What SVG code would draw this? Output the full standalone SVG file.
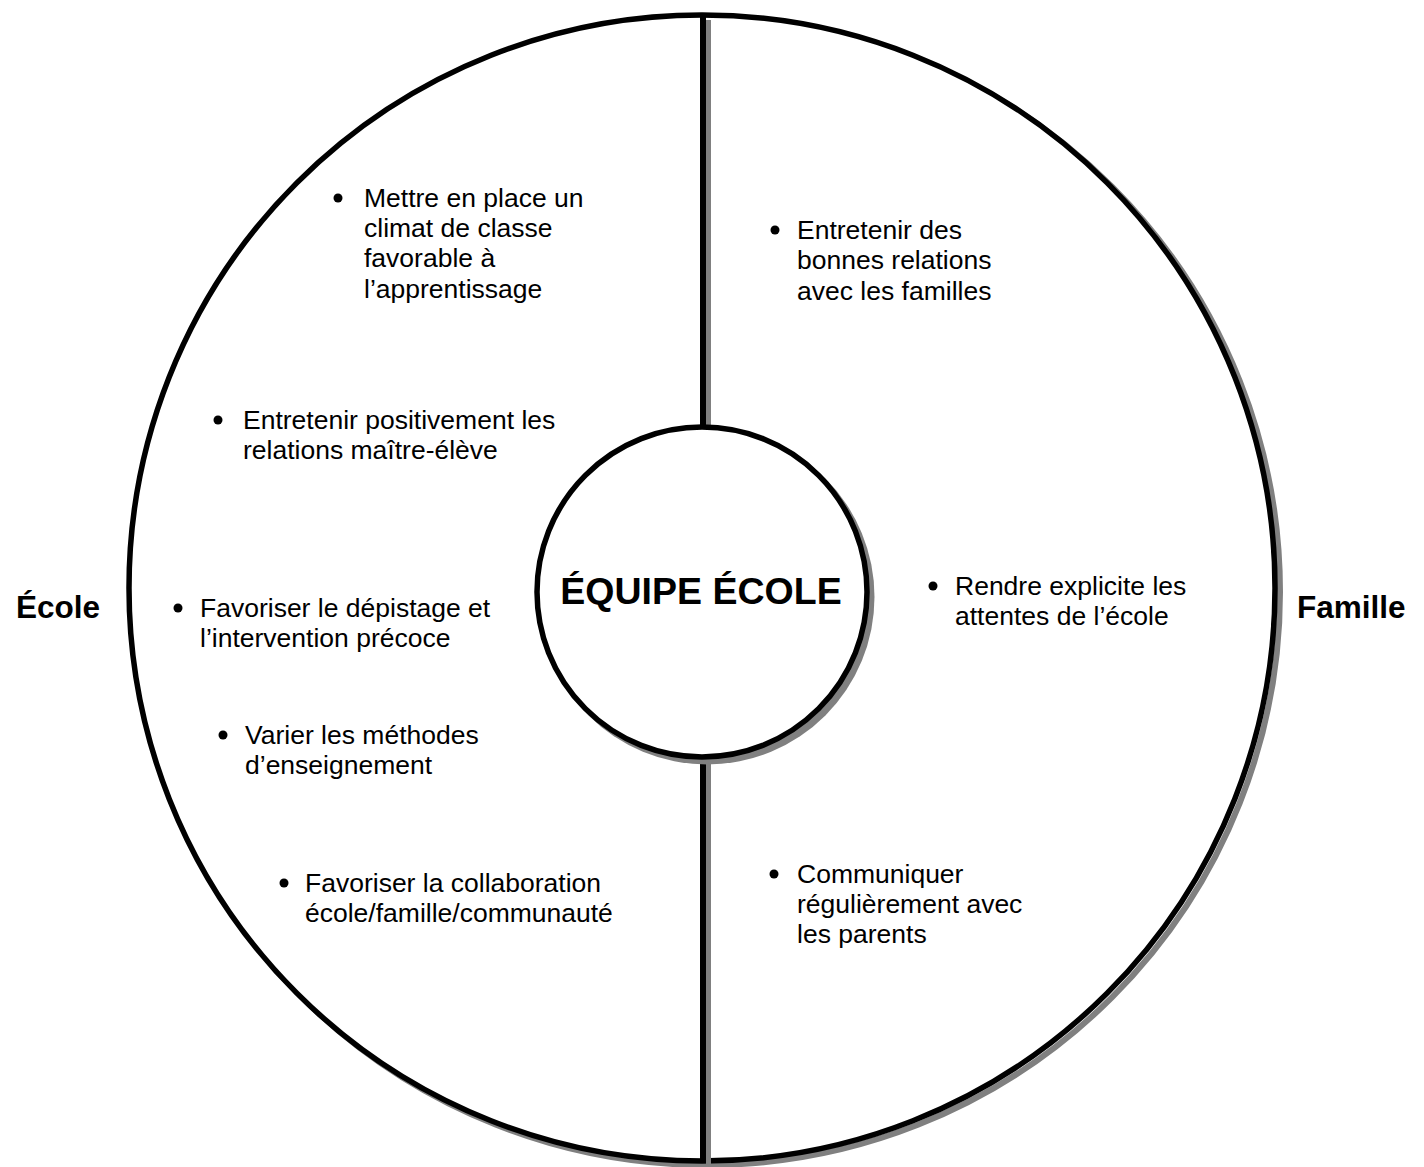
<svg xmlns="http://www.w3.org/2000/svg" width="1424" height="1167" viewBox="0 0 1424 1167">
<style>
.t{font-family:"Liberation Sans",Arial,sans-serif;font-size:26.5px;fill:#000}
.b{font-family:"Liberation Sans",Arial,sans-serif;font-weight:bold;fill:#000}
.sh{stroke:#808080;fill:none}
.bk{stroke:#000;fill:none}
</style>
<rect width="1424" height="1167" fill="#fff"/>
<g id="outer">
<circle class="sh" cx="707" cy="592" r="573" stroke-width="6"/>
<circle cx="702" cy="588" r="573" fill="#fff" stroke="#000" stroke-width="5.5"/>
</g>
<g id="connectors">
<line class="sh" x1="708.5" y1="20" x2="708.5" y2="430" stroke-width="5"/>
<line class="sh" x1="708.5" y1="760" x2="708.5" y2="1164" stroke-width="5"/>
<line class="bk" x1="703" y1="15" x2="703" y2="430" stroke-width="6"/>
<line class="bk" x1="703" y1="755" x2="703" y2="1161" stroke-width="6"/>
</g>
<g id="center">
<circle cx="707" cy="597" r="167.5" fill="#808080"/>
<circle cx="702" cy="592" r="165" fill="#fff" stroke="#000" stroke-width="5.5"/>
<text class="b" x="701" y="604" font-size="37.5" text-anchor="middle">ÉQUIPE ÉCOLE</text>
</g>
<g id="label-ecole"><text class="b" x="16" y="618" font-size="31.5">École</text></g>
<g id="label-famille"><text class="b" x="1297" y="618" font-size="31.5">Famille</text></g>
<g id="item1">
<circle cx="338" cy="198" r="4.5"/>
<text class="t"><tspan x="364" y="207">Mettre en place un</tspan><tspan x="364" y="237">climat de classe</tspan><tspan x="364" y="267">favorable à</tspan><tspan x="364" y="298">l’apprentissage</tspan></text>
</g>
<g id="item2">
<circle cx="218" cy="420" r="4.5"/>
<text class="t"><tspan x="243" y="429">Entretenir positivement les</tspan><tspan x="243" y="459">relations maître-élève</tspan></text>
</g>
<g id="item3">
<circle cx="178" cy="608" r="4.5"/>
<text class="t"><tspan x="200" y="617">Favoriser le dépistage et</tspan><tspan x="200" y="647">l’intervention précoce</tspan></text>
</g>
<g id="item4">
<circle cx="223" cy="735" r="4.5"/>
<text class="t"><tspan x="245" y="744">Varier les méthodes</tspan><tspan x="245" y="774">d’enseignement</tspan></text>
</g>
<g id="item5">
<circle cx="284" cy="883" r="4.5"/>
<text class="t"><tspan x="305" y="892">Favoriser la collaboration</tspan><tspan x="305" y="922">école/famille/communauté</tspan></text>
</g>
<g id="item6">
<circle cx="775" cy="230" r="4.5"/>
<text class="t"><tspan x="797" y="239">Entretenir des</tspan><tspan x="797" y="269">bonnes relations</tspan><tspan x="797" y="300">avec les familles</tspan></text>
</g>
<g id="item7">
<circle cx="933" cy="586" r="4.5"/>
<text class="t"><tspan x="955" y="595">Rendre explicite les</tspan><tspan x="955" y="625">attentes de l’école</tspan></text>
</g>
<g id="item8">
<circle cx="774" cy="874" r="4.5"/>
<text class="t"><tspan x="797" y="883">Communiquer</tspan><tspan x="797" y="913">régulièrement avec</tspan><tspan x="797" y="943">les parents</tspan></text>
</g>
</svg>
